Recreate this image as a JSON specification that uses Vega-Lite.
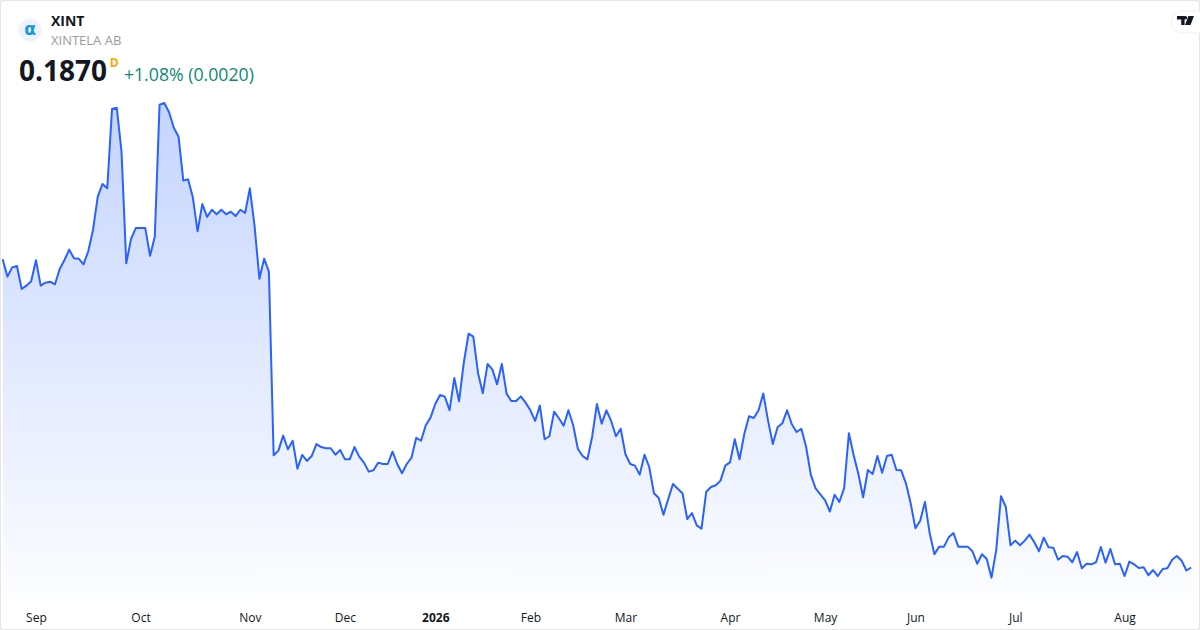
{
  "$schema": "https://vega.github.io/schema/vega-lite/v6.json",
  "width": 1200,
  "height": 630,
  "padding": 0,
  "autosize": {"type": "none"},
  "background": "white",
  "datasets": {"prices": [
    {"session":0,"close":0.3925},{"session":1,"close":0.3809},{"session":2,"close":0.3871},{"session":3,"close":0.388},{"session":4,"close":0.3727},{"session":5,"close":0.3749},{"session":6,"close":0.3778},{"session":7,"close":0.3918},{"session":8,"close":0.3749},{"session":9,"close":0.3769},
    {"session":10,"close":0.3775},{"session":11,"close":0.3758},{"session":12,"close":0.386},{"session":13,"close":0.392},{"session":14,"close":0.3989},{"session":15,"close":0.3931},{"session":16,"close":0.3929},{"session":17,"close":0.3891},{"session":18,"close":0.3978},{"session":19,"close":0.412},
    {"session":20,"close":0.4342},{"session":21,"close":0.4427},{"session":22,"close":0.4398},{"session":23,"close":0.4927},{"session":24,"close":0.4935},{"session":25,"close":0.4642},{"session":26,"close":0.3898},{"session":27,"close":0.406},{"session":28,"close":0.4133},{"session":29,"close":0.4133},
    {"session":30,"close":0.4133},{"session":31,"close":0.3949},{"session":32,"close":0.4075},{"session":33,"close":0.4955},{"session":34,"close":0.4967},{"session":35,"close":0.4905},{"session":36,"close":0.4802},{"session":37,"close":0.4742},{"session":38,"close":0.4449},{"session":39,"close":0.4458},
    {"session":40,"close":0.4338},{"session":41,"close":0.4111},{"session":42,"close":0.4293},{"session":43,"close":0.4207},{"session":44,"close":0.4255},{"session":45,"close":0.4225},{"session":46,"close":0.4255},{"session":47,"close":0.4225},{"session":48,"close":0.4242},{"session":49,"close":0.4213},
    {"session":50,"close":0.4255},{"session":51,"close":0.4233},{"session":52,"close":0.4398},{"session":53,"close":0.4142},{"session":54,"close":0.3795},{"session":55,"close":0.3929},{"session":56,"close":0.3842},{"session":57,"close":0.2618},{"session":58,"close":0.2649},{"session":59,"close":0.2749},
    {"session":60,"close":0.2658},{"session":61,"close":0.2715},{"session":62,"close":0.2529},{"session":63,"close":0.262},{"session":64,"close":0.258},{"session":65,"close":0.2613},{"session":66,"close":0.2693},{"session":67,"close":0.2673},{"session":68,"close":0.2665},{"session":69,"close":0.2665},
    {"session":70,"close":0.2622},{"session":71,"close":0.2653},{"session":72,"close":0.2591},{"session":73,"close":0.2591},{"session":74,"close":0.2673},{"session":75,"close":0.2609},{"session":76,"close":0.2569},{"session":77,"close":0.2509},{"session":78,"close":0.2518},{"session":79,"close":0.2569},
    {"session":80,"close":0.256},{"session":81,"close":0.256},{"session":82,"close":0.2642},{"session":83,"close":0.256},{"session":84,"close":0.2498},{"session":85,"close":0.256},{"session":86,"close":0.2602},{"session":87,"close":0.2735},{"session":88,"close":0.2715},{"session":89,"close":0.2818},
    {"session":90,"close":0.2869},{"session":91,"close":0.296},{"session":92,"close":0.302},{"session":93,"close":0.3009},{"session":94,"close":0.2918},{"session":95,"close":0.3133},{"session":96,"close":0.2978},{"session":97,"close":0.3235},{"session":98,"close":0.3429},{"session":99,"close":0.3409},
    {"session":100,"close":0.3165},{"session":101,"close":0.3031},{"session":102,"close":0.3227},{"session":103,"close":0.3191},{"session":104,"close":0.3091},{"session":105,"close":0.3227},{"session":106,"close":0.3029},{"session":107,"close":0.298},{"session":108,"close":0.298},{"session":109,"close":0.3011},
    {"session":110,"close":0.2969},{"session":111,"close":0.2918},{"session":112,"close":0.2847},{"session":113,"close":0.2949},{"session":114,"close":0.2725},{"session":115,"close":0.2745},{"session":116,"close":0.2909},{"session":117,"close":0.2865},{"session":118,"close":0.2815},{"session":119,"close":0.2918},
    {"session":120,"close":0.282},{"session":121,"close":0.266},{"session":122,"close":0.2613},{"session":123,"close":0.2591},{"session":124,"close":0.2742},{"session":125,"close":0.296},{"session":126,"close":0.2829},{"session":127,"close":0.2918},{"session":128,"close":0.2847},{"session":129,"close":0.2745},
    {"session":130,"close":0.2795},{"session":131,"close":0.2625},{"session":132,"close":0.256},{"session":133,"close":0.2549},{"session":134,"close":0.2489},{"session":135,"close":0.2622},{"session":136,"close":0.254},{"session":137,"close":0.2365},{"session":138,"close":0.2333},{"session":139,"close":0.2222},
    {"session":140,"close":0.2327},{"session":141,"close":0.2427},{"session":142,"close":0.2395},{"session":143,"close":0.2365},{"session":144,"close":0.2193},{"session":145,"close":0.2233},{"session":146,"close":0.2151},{"session":147,"close":0.2129},{"session":148,"close":0.2375},{"session":149,"close":0.2407},
    {"session":150,"close":0.2418},{"session":151,"close":0.2449},{"session":152,"close":0.2549},{"session":153,"close":0.2571},{"session":154,"close":0.2725},{"session":155,"close":0.2591},{"session":156,"close":0.276},{"session":157,"close":0.2878},{"session":158,"close":0.2867},{"session":159,"close":0.2918},
    {"session":160,"close":0.3029},{"session":161,"close":0.2849},{"session":162,"close":0.2693},{"session":163,"close":0.2805},{"session":164,"close":0.2831},{"session":165,"close":0.2918},{"session":166,"close":0.2825},{"session":167,"close":0.2773},{"session":168,"close":0.2795},{"session":169,"close":0.2675},
    {"session":170,"close":0.2487},{"session":171,"close":0.2398},{"session":172,"close":0.2358},{"session":173,"close":0.2318},{"session":174,"close":0.2243},{"session":175,"close":0.2355},{"session":176,"close":0.2307},{"session":177,"close":0.2398},{"session":178,"close":0.2765},{"session":179,"close":0.262},
    {"session":180,"close":0.2493},{"session":181,"close":0.2338},{"session":182,"close":0.252},{"session":183,"close":0.2493},{"session":184,"close":0.2613},{"session":185,"close":0.2502},{"session":186,"close":0.2613},{"session":187,"close":0.2622},{"session":188,"close":0.252},{"session":189,"close":0.2518},
    {"session":190,"close":0.2431},{"session":191,"close":0.2298},{"session":192,"close":0.2131},{"session":193,"close":0.2182},{"session":194,"close":0.2307},{"session":195,"close":0.2098},{"session":196,"close":0.1958},{"session":197,"close":0.2009},{"session":198,"close":0.2009},{"session":199,"close":0.2071},
    {"session":200,"close":0.21},{"session":201,"close":0.2009},{"session":202,"close":0.2009},{"session":203,"close":0.2009},{"session":204,"close":0.1978},{"session":205,"close":0.1895},{"session":206,"close":0.1958},{"session":207,"close":0.1927},{"session":208,"close":0.1802},{"session":209,"close":0.1987},
    {"session":210,"close":0.2345},{"session":211,"close":0.2275},{"session":212,"close":0.2018},{"session":213,"close":0.2049},{"session":214,"close":0.2018},{"session":215,"close":0.2049},{"session":216,"close":0.2089},{"session":217,"close":0.2038},{"session":218,"close":0.1978},{"session":219,"close":0.2069},
    {"session":220,"close":0.2005},{"session":221,"close":0.2002},{"session":222,"close":0.1922},{"session":223,"close":0.1947},{"session":224,"close":0.1942},{"session":225,"close":0.1905},{"session":226,"close":0.1973},{"session":227,"close":0.1865},{"session":228,"close":0.1895},{"session":229,"close":0.1891},
    {"session":230,"close":0.1905},{"session":231,"close":0.2007},{"session":232,"close":0.1902},{"session":233,"close":0.1993},{"session":234,"close":0.1891},{"session":235,"close":0.1895},{"session":236,"close":0.1813},{"session":237,"close":0.1909},{"session":238,"close":0.1891},{"session":239,"close":0.1867},
    {"session":240,"close":0.1871},{"session":241,"close":0.1818},{"session":242,"close":0.1853},{"session":243,"close":0.1813},{"session":244,"close":0.186},{"session":245,"close":0.1865},{"session":246,"close":0.1922},{"session":247,"close":0.1947},{"session":248,"close":0.1915},{"session":249,"close":0.185},
    {"session":250,"close":0.187}
  ]},
  "layer": [
    {
      "data": {"name": "prices"},
      "mark": {
        "type": "area",
        "color": {
          "x1": 1, "y1": 1, "x2": 1, "y2": 0,
          "gradient": "linear",
          "stops": [
            {"offset": 0, "color": "rgba(41,98,255,0.01)"},
            {"offset": 1, "color": "rgba(41,98,255,0.27)"}
          ]
        }
      },
      "encoding": {
        "x": {
          "field": "session",
          "type": "quantitative",
          "title": null,
          "scale": {"domain": [-0.562, 251.86], "nice": false, "zero": false},
          "axis": {
            "orient": "bottom",
            "offset": -13,
            "domain": false,
            "ticks": false,
            "grid": false,
            "labelPadding": 0,
            "labelBaseline": "middle",
            "labelFont": "Open Sans",
            "labelFontSize": 12,
            "labelColor": "#131722",
            "labelOverlap": false,
            "labelFlush": false,
            "values": [7, 29, 52, 72, 91, 111, 131, 153, 173, 192, 213, 236],
            "labelExpr": "['Sep','Oct','Nov','Dec','2026','Feb','Mar','Apr','May','Jun','Jul','Aug'][indexof([7,29,52,72,91,111,131,153,173,192,213,236],datum.value)]",
            "labelFontWeight": {"condition": {"test": "datum.value === 91", "value": "bold"}, "value": "normal"}
          }
        },
        "y": {
          "field": "close",
          "type": "quantitative",
          "title": null,
          "scale": {"domain": [0.14533, 0.56533], "nice": false, "zero": false}
        },
        "y2": {"datum": 0.1653}
      }
    },
    {
      "data": {"name": "prices"},
      "mark": {"type": "line", "color": "#2962ff", "strokeWidth": 2, "strokeJoin": "round"},
      "encoding": {
        "x": {"field": "session", "type": "quantitative", "title": null},
        "y": {"field": "close", "type": "quantitative", "title": null}
      }
    },
    {
      "data": {"values": [{"symbol": "XINT"}]},
      "mark": {"type": "point", "shape": "circle", "size": 530, "filled": true, "color": "#eef3fb", "opacity": 1},
      "encoding": {"x": {"datum": 5.75, "title": null}, "y": {"datum": 0.5453, "title": null}}
    },
    {
      "data": {"values": [{"label": "α"}]},
      "mark": {"type": "text", "font": "DejaVu Sans", "fontSize": 17, "fontWeight": "bold", "color": "#149ad6", "align": "center", "baseline": "middle"},
      "encoding": {"x": {"datum": 5.75, "title": null}, "y": {"datum": 0.5453, "title": null}, "text": {"field": "label"}}
    },
    {
      "data": {"values": [{"label": "XINT"}]},
      "mark": {"type": "text", "font": "Open Sans", "fontSize": 14, "fontWeight": "bold", "color": "#131722", "align": "left", "baseline": "middle"},
      "encoding": {"x": {"datum": 10.17, "title": null}, "y": {"datum": 0.5507, "title": null}, "text": {"field": "label"}}
    },
    {
      "data": {"values": [{"label": "XINTELA AB"}]},
      "mark": {"type": "text", "font": "Open Sans", "fontSize": 13, "color": "#9a9a9f", "align": "left", "baseline": "middle"},
      "encoding": {"x": {"datum": 10.17, "title": null}, "y": {"datum": 0.5377, "title": null}, "text": {"field": "label"}}
    },
    {
      "data": {"values": [{"label": "0.1870"}]},
      "mark": {"type": "text", "font": "Open Sans", "fontSize": 28, "fontWeight": "bold", "color": "#131722", "align": "left", "baseline": "middle"},
      "encoding": {"x": {"datum": 3.45, "title": null}, "y": {"datum": 0.51667, "title": null}, "text": {"field": "label"}}
    },
    {
      "data": {"values": [{"label": "D"}]},
      "mark": {"type": "text", "font": "Open Sans", "fontSize": 12, "fontWeight": "bold", "color": "#f7a600", "align": "left", "baseline": "middle"},
      "encoding": {"x": {"datum": 22.5, "title": null}, "y": {"datum": 0.5233, "title": null}, "text": {"field": "label"}}
    },
    {
      "data": {"values": [{"label": "+1.08% (0.0020)"}]},
      "mark": {"type": "text", "font": "Open Sans", "fontSize": 17.7, "color": "#0b8a72", "align": "left", "baseline": "middle"},
      "encoding": {"x": {"datum": 25.5, "title": null}, "y": {"datum": 0.5147, "title": null}, "text": {"field": "label"}}
    },
    {
      "data": {"values": [{"badge": "tradingview"}]},
      "mark": {"type": "point", "shape": "M1 -0.5L-0.4 -0.5A0.5 0.5 0 0 0 -0.4 0.5L1 0.5Z", "size": 1936, "filled": true, "fill": "white", "stroke": "#eeeef0", "strokeWidth": 1, "opacity": 1},
      "encoding": {"x": {"datum": 250.0, "title": null}, "y": {"datum": 0.5507, "title": null}}
    },
    {
      "data": {"values": [{"badge": "tradingview"}]},
      "mark": {"type": "point", "shape": "M-1 -0.53L-0.1 -0.53L-0.1 0.53L-0.5 0.53L-0.5 -0.12L-1 -0.12ZM0.35 -0.53L1 -0.53L0.6 0.53L-0.05 0.53ZM0 -0.53A0.2 0.2 0 1 1 0 -0.13A0.2 0.2 0 1 1 0 -0.53Z", "size": 289, "filled": true, "color": "#131722", "opacity": 1},
      "encoding": {"x": {"datum": 248.8, "title": null}, "y": {"datum": 0.5516, "title": null}}
    }
  ],
  "config": {
    "axisY": {"disable": true},
    "view": {"stroke": "#e6e6e6", "strokeWidth": 2, "cornerRadius": 4}
  }
}
